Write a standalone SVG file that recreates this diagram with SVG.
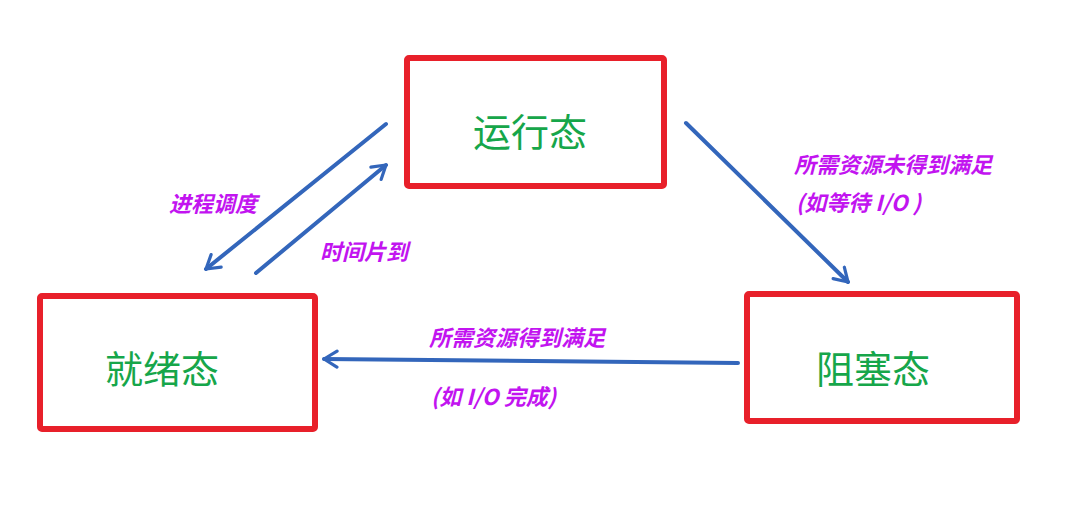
<svg xmlns="http://www.w3.org/2000/svg" width="1090" height="515" viewBox="0 0 1090 515">
<style>
.box{fill:#fff;stroke:#e8202a;stroke-width:6}
.st{font-family:"Noto Sans CJK SC","Microsoft YaHei",sans-serif;font-size:38px;fill:#16a64a;text-anchor:middle;dominant-baseline:central}
.lb{font-family:"Noto Sans CJK SC",sans-serif;font-size:22px;font-weight:bold;font-style:italic;fill:#c214f0}
.ar{stroke:#3366bb;stroke-width:4;stroke-linecap:round;fill:none;marker-end:url(#ah)}
</style>
<defs>
<marker id="ah" viewBox="0 0 20 20" refX="17" refY="10" markerWidth="5" markerHeight="5" markerUnits="strokeWidth" orient="auto">
<polyline points="4,2 17,10 4,18" fill="none" stroke="#3366bb" stroke-width="3.2" stroke-linecap="round" stroke-linejoin="round"/>
</marker>
</defs>
<rect width="1090" height="515" fill="#fff"/>
<g id="running">
<rect class="box" x="407" y="58" width="257" height="128" rx="2"/>
<text class="st" x="530" y="129">运行态</text>
</g>
<g id="ready">
<rect class="box" x="40" y="296" width="275" height="133" rx="2"/>
<text class="st" x="162" y="366">就绪态</text>
</g>
<g id="blocked">
<rect class="box" x="747" y="294" width="270" height="127" rx="2"/>
<text class="st" x="873" y="366">阻塞态</text>
</g>
<g id="connectors">
<line class="ar" x1="386" y1="124" x2="206" y2="269"/>
<line class="ar" x1="256" y1="273" x2="386" y2="165"/>
<line class="ar" x1="686" y1="123" x2="848" y2="282"/>
<line class="ar" x1="738" y1="363" x2="324" y2="359"/>
</g>
<g id="labels">
<text class="lb" x="169" y="212">进程调度</text>
<text class="lb" x="320" y="260">时间片到</text>
<text class="lb" x="794" y="173">所需资源未得到满足</text>
<text class="lb" x="796" y="211">(如等待 I/O )</text>
<text class="lb" x="429" y="346">所需资源得到满足</text>
<text class="lb" x="431" y="405">(如 I/O 完成)</text>
</g>
</svg>
